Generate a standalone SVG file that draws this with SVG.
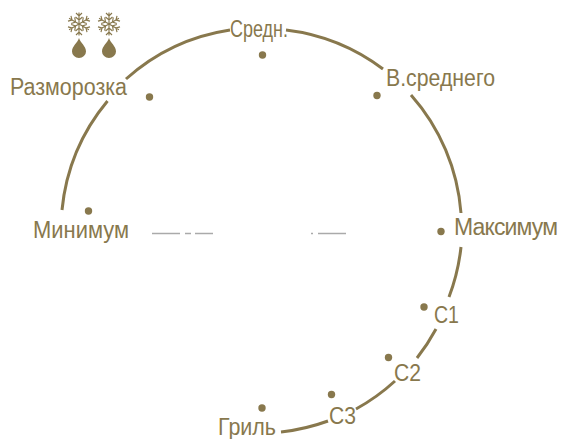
<svg xmlns="http://www.w3.org/2000/svg" width="562" height="439" viewBox="0 0 562 439">
<style>
.a{fill:none;stroke:#88784d;stroke-width:3}
.g{fill:none;stroke:#aaa;stroke-width:1.300}
.d{fill:#88784d}
.t{fill:#88784d;font-family:"Liberation Sans",Arial,sans-serif;font-size:23px}
.s{fill:none;stroke:#88784d;stroke-width:1.150}
</style>
<defs>
<g id="flake"><g id="arm"><path d="M0 0V-11.500M-3 -11L0 -8L3 -11M-3.500 -7L0 -4L3.500 -7"/></g><use href="#arm" transform="rotate(60)"/><use href="#arm" transform="rotate(120)"/><use href="#arm" transform="rotate(180)"/><use href="#arm" transform="rotate(240)"/><use href="#arm" transform="rotate(300)"/></g>
<path id="drop" d="M0 -12C1.500 -7 7 -4 7 1.500A7 6.500 0 0 1 -7 1.500C-7 -4 -1.500 -7 0 -12Z"/>
</defs>
<g id="connectors">
<path class="a" d="M62 210A201 201 0 0 1 107.500 101"/>
<path class="a" d="M126 79A201 201 0 0 1 230 30"/>
<path class="a" d="M286 30A201 201 0 0 1 383 69"/>
<path class="a" d="M411 95A201 201 0 0 1 461 213"/>
<path class="a" d="M461 247A201 201 0 0 1 449 297"/>
<path class="a" d="M436 329A201 201 0 0 1 417 358"/>
<path class="a" d="M395 381A201 201 0 0 1 356 409"/>
<path class="a" d="M328 421A201 201 0 0 1 281 432"/>
<path class="g" d="M152 233.500H180M185 233.500H191M195 233.500H213M311 233.500H313M318 233.500H346"/>
</g>
<g id="icons">
<use href="#flake" class="s" x="79" y="24"/>
<use href="#flake" class="s" x="109" y="24"/>
<use href="#drop" class="d" x="79" y="50"/>
<use href="#drop" class="d" x="109" y="50"/>
</g>
<g id="sredn"><circle class="d" cx="262.500" cy="55" r="3.700"/><text class="t" x="230" y="37" textLength="58" lengthAdjust="spacingAndGlyphs">Средн.</text></g>
<g id="defrost"><circle class="d" cx="149.500" cy="97" r="3.700"/><text class="t" x="10" y="95" textLength="117" lengthAdjust="spacingAndGlyphs">Разморозка</text></g>
<g id="above-mid"><circle class="d" cx="377" cy="95.500" r="3.700"/><text class="t" x="386" y="86" textLength="109" lengthAdjust="spacingAndGlyphs">В.среднего</text></g>
<g id="min"><circle class="d" cx="88.500" cy="211" r="3.700"/><text class="t" x="33" y="238" textLength="96" lengthAdjust="spacingAndGlyphs">Минимум</text></g>
<g id="max"><circle class="d" cx="441" cy="231.500" r="3.700"/><text class="t" x="454" y="235" textLength="104">Максимум</text></g>
<g id="c1"><circle class="d" cx="424" cy="307" r="3.700"/><text class="t" x="434" y="323" textLength="25" lengthAdjust="spacingAndGlyphs">C1</text></g>
<g id="c2"><circle class="d" cx="388.500" cy="357.500" r="3.700"/><text class="t" x="394" y="381" textLength="27" lengthAdjust="spacingAndGlyphs">C2</text></g>
<g id="c3"><circle class="d" cx="331.500" cy="394.500" r="3.700"/><text class="t" x="329" y="424" textLength="27" lengthAdjust="spacingAndGlyphs">C3</text></g>
<g id="grill"><circle class="d" cx="262" cy="408" r="3.700"/><text class="t" x="218" y="434.500" textLength="58" lengthAdjust="spacingAndGlyphs">Гриль</text></g>
</svg>
